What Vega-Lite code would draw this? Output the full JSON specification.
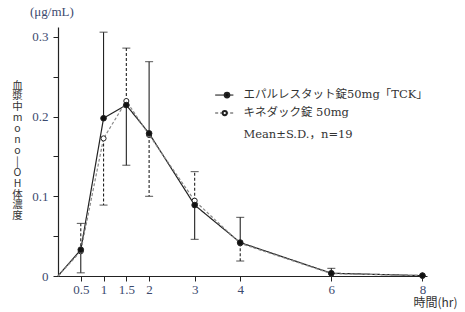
{
  "$schema": "https://vega.github.io/schema/vega-lite/v6.json",
  "width": 369,
  "height": 249,
  "autosize": {"type": "none"},
  "padding": {"left": 58, "top": 27, "right": 38, "bottom": 36},
  "background": "white",
  "config": {
    "view": {"stroke": null},
    "font": "Liberation Serif, Noto Sans CJK JP",
    "axis": {"grid": false, "domainColor": "#222", "tickColor": "#222", "labelColor": "#3c4a6e", "labelFont": "Liberation Serif", "labelFontSize": 13, "tickSize": 5, "domainWidth": 1.2}
  },
  "title": {"text": "(μg/mL)", "anchor": "start", "frame": "group", "dx": -28, "offset": 8, "fontSize": 13, "font": "Liberation Serif", "fontWeight": "normal", "color": "#3c4a6e"},
  "datasets": {
    "pk": [
      {"t": 0, "series": "TCK", "conc": 0, "sd_end": null},
      {"t": 0.5, "series": "TCK", "conc": 0.033, "sd_end": 0.004},
      {"t": 1, "series": "TCK", "conc": 0.198, "sd_end": 0.306},
      {"t": 1.5, "series": "TCK", "conc": 0.2145, "sd_end": 0.139},
      {"t": 2, "series": "TCK", "conc": 0.179, "sd_end": 0.269},
      {"t": 3, "series": "TCK", "conc": 0.089, "sd_end": 0.046},
      {"t": 4, "series": "TCK", "conc": 0.042, "sd_end": 0.0736},
      {"t": 6, "series": "TCK", "conc": 0.0035, "sd_end": 0.0096},
      {"t": 8, "series": "TCK", "conc": 0.0005, "sd_end": null},
      {"t": 0, "series": "Kine", "conc": 0, "sd_end": null},
      {"t": 0.5, "series": "Kine", "conc": 0.031, "sd_end": 0.066},
      {"t": 1, "series": "Kine", "conc": 0.1727, "sd_end": 0.089},
      {"t": 1.5, "series": "Kine", "conc": 0.2196, "sd_end": 0.286},
      {"t": 2, "series": "Kine", "conc": 0.177, "sd_end": 0.1},
      {"t": 3, "series": "Kine", "conc": 0.0945, "sd_end": 0.131},
      {"t": 4, "series": "Kine", "conc": 0.041, "sd_end": 0.0188},
      {"t": 6, "series": "Kine", "conc": 0.003, "sd_end": null},
      {"t": 8, "series": "Kine", "conc": 0.0005, "sd_end": null}
    ]
  },
  "layer": [
    {
      "data": {"name": "pk"},
      "transform": [{"filter": "datum.sd_end != null"}],
      "mark": {"type": "rule", "strokeWidth": 1.1, "color": "#222"},
      "encoding": {
        "x": {"field": "t", "type": "quantitative", "scale": {"domain": [0, 8.1], "nice": false},
          "axis": {"values": [0.5, 1, 1.5, 2, 3, 4, 6, 8], "format": ".1~f", "title": "時間(hr)", "titleFont": "Noto Sans CJK JP", "titleFontSize": 12, "titleFontWeight": "normal", "titleColor": "#333", "titleAnchor": null, "titleAlign": "center", "titleBaseline": "middle", "titleX": 377, "titleY": 26, "labelPadding": 2}},
        "y": {"field": "conc", "type": "quantitative", "scale": {"domain": [0, 0.3125], "nice": false},
          "axis": {"values": [0, 0.05, 0.1, 0.15, 0.2, 0.25, 0.3], "labelExpr": "datum.value * 10 % 1 < 0.001 || datum.value * 10 % 1 > 0.999 ? (datum.value == 0 ? '0' : format(datum.value, '.1f')) : ''", "labelPadding": 5,
            "title": ["血", "漿", "中", "m", "o", "n", "o", "|", "O", "H", "体", "濃", "度"], "titleAngle": 0, "titleFont": "Noto Sans CJK JP", "titleFontSize": 10.5, "titleFontWeight": "normal", "titleColor": "#333", "titleLineHeight": 10.9, "titleAnchor": null, "titleAlign": "center", "titleBaseline": "top", "titleX": -41, "titleY": 53}},
        "y2": {"field": "sd_end"},
        "strokeDash": {"field": "series", "type": "nominal", "scale": {"domain": ["TCK", "Kine"], "range": [[1, 0], [3, 2]]}, "legend": null}
      }
    },
    {
      "data": {"name": "pk"},
      "transform": [{"filter": "datum.sd_end != null"}],
      "mark": {"type": "tick", "orient": "horizontal", "size": 8, "thickness": 1.1, "color": "#222"},
      "encoding": {
        "x": {"field": "t", "type": "quantitative"},
        "y": {"field": "sd_end", "type": "quantitative"}
      }
    },
    {
      "data": {"name": "pk"},
      "mark": {"type": "line", "strokeWidth": 1.2},
      "encoding": {
        "x": {"field": "t", "type": "quantitative"},
        "y": {"field": "conc", "type": "quantitative"},
        "detail": {"field": "series"},
        "color": {"field": "series", "type": "nominal", "scale": {"domain": ["TCK", "Kine"], "range": ["#222", "#888"]}, "legend": null},
        "strokeDash": {"field": "series", "type": "nominal", "legend": null},
        "order": {"field": "t"}
      }
    },
    {
      "data": {"name": "pk"},
      "transform": [{"filter": "datum.t > 0"}],
      "mark": {"type": "point", "shape": "circle", "filled": true, "strokeWidth": 1, "stroke": "#222", "opacity": 1},
      "encoding": {
        "x": {"field": "t", "type": "quantitative"},
        "y": {"field": "conc", "type": "quantitative"},
        "fill": {"field": "series", "type": "nominal", "scale": {"domain": ["TCK", "Kine"], "range": ["#111", "white"]}, "legend": null},
        "size": {"field": "series", "type": "nominal", "scale": {"domain": ["TCK", "Kine"], "range": [32, 26]}, "legend": null},
        "order": {"field": "series", "sort": "ascending"}
      }
    },
    {
      "data": {"values": [{}]},
      "mark": {"type": "rule", "color": "#222", "strokeWidth": 1.1},
      "encoding": {"x": {"datum": 3.45}, "x2": {"datum": 3.85}, "y": {"datum": 0.2271}}
    },
    {
      "data": {"values": [{}]},
      "mark": {"type": "point", "shape": "circle", "filled": true, "fill": "#111", "stroke": "#222", "size": 22, "opacity": 1},
      "encoding": {"x": {"datum": 3.71}, "y": {"datum": 0.2271}}
    },
    {
      "data": {"values": [{}]},
      "mark": {"type": "rule", "color": "#444", "strokeWidth": 1.1, "strokeDash": [3, 2]},
      "encoding": {"x": {"datum": 3.45}, "x2": {"datum": 3.85}, "y": {"datum": 0.2045}}
    },
    {
      "data": {"values": [{}]},
      "mark": {"type": "point", "shape": "circle", "filled": true, "fill": "white", "stroke": "#222", "size": 18, "opacity": 1},
      "encoding": {"x": {"datum": 3.66}, "y": {"datum": 0.2045}}
    },
    {
      "data": {"values": [
        {"label": "エパルレスタット錠50mg「TCK」", "row": 0.2271},
        {"label": "キネダック錠 50mg", "row": 0.2045},
        {"label": "Mean±S.D.，n=19", "row": 0.1769}
      ]},
      "mark": {"type": "text", "align": "left", "baseline": "middle", "fontSize": 11.5, "color": "#333", "font": "DejaVu Serif, Noto Sans CJK JP"},
      "encoding": {"x": {"datum": 4.07}, "y": {"field": "row", "type": "quantitative"}, "text": {"field": "label"}}
    }
  ]
}
